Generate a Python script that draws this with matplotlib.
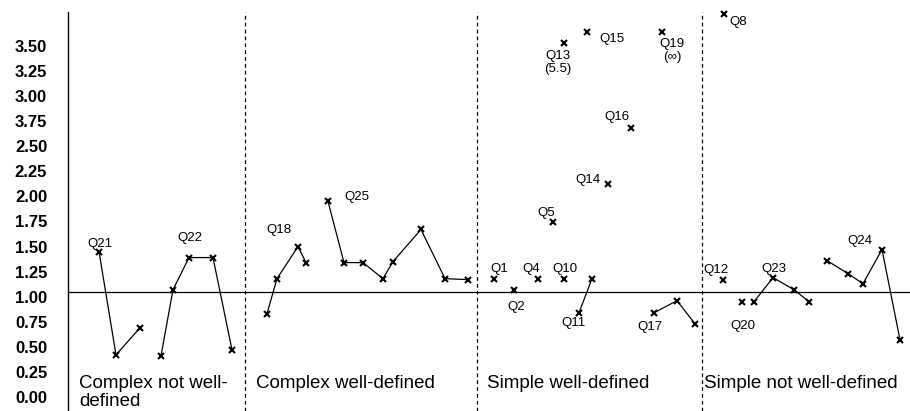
import matplotlib
matplotlib.use('Agg')
import matplotlib.pyplot as plt

plt.rcParams['font.family'] = ['Liberation Sans', 'DejaVu Sans']

# y tick values and their printed labels (the original prints 3.75 where 2.75 belongs)
tick_vals = [0.0, 0.25, 0.5, 0.75, 1.0, 1.25, 1.5, 1.75, 2.0, 2.25, 2.5, 2.75, 3.0, 3.25, 3.5]
tick_labels = ['0.00', '0.25', '0.50', '0.75', '1.00', '1.25', '1.50', '1.75', '2.00',
               '2.25', '2.50', '3.75', '3.00', '3.25', '3.50']

# group names and the x where each group starts
groups = ['Complex not well-\ndefined', 'Complex well-defined',
          'Simple well-defined', 'Simple not well-defined']
group_start = [68, 245, 477, 702]
group_pad = [11, 11, 10, 2]
baseline = 1.044

# question series: x position along the axis, ratio values
q21_x = [99, 116, 140];                    q21_y = [1.45, 0.42, 0.69]
q22_x = [161, 173, 189, 213, 232];         q22_y = [0.41, 1.07, 1.39, 1.39, 0.47]
q18_x = [267, 277, 298, 306];              q18_y = [0.83, 1.18, 1.50, 1.34]
q25_x = [328, 344, 363, 383, 393, 421, 445, 468]
q25_y = [1.95, 1.34, 1.34, 1.18, 1.35, 1.67, 1.18, 1.17]
q1_x = [494];  q1_y = [1.18]
q2_x = [514];  q2_y = [1.07]
q4_x = [538];  q4_y = [1.18]
q5_x = [553];  q5_y = [1.74]
q10_x = [564]; q10_y = [1.18]
q11_x = [579, 592];                        q11_y = [0.84, 1.18]
q13_x = [564]; q13_y = [3.53]
q15_x = [587]; q15_y = [3.64]
q14_x = [608]; q14_y = [2.12]
q16_x = [631]; q16_y = [2.68]
q17_x = [654, 677, 695];                   q17_y = [0.84, 0.96, 0.73]
q19_x = [662]; q19_y = [3.64]
q8_x = [724];  q8_y = [3.82]
q12_x = [723]; q12_y = [1.17]
q20_x = [742]; q20_y = [0.95]
q23_x = [754, 773, 794, 809];              q23_y = [0.95, 1.19, 1.07, 0.95]
q24_x = [827, 848, 863, 882, 900];         q24_y = [1.36, 1.23, 1.13, 1.47, 0.57]

series = {
    'Q21': (q21_x, q21_y), 'Q22': (q22_x, q22_y), 'Q18': (q18_x, q18_y),
    'Q25': (q25_x, q25_y), 'Q1': (q1_x, q1_y), 'Q2': (q2_x, q2_y),
    'Q4': (q4_x, q4_y), 'Q5': (q5_x, q5_y), 'Q10': (q10_x, q10_y),
    'Q11': (q11_x, q11_y), 'Q13': (q13_x, q13_y), 'Q15': (q15_x, q15_y),
    'Q14': (q14_x, q14_y), 'Q16': (q16_x, q16_y), 'Q17': (q17_x, q17_y),
    'Q19': (q19_x, q19_y), 'Q8': (q8_x, q8_y), 'Q12': (q12_x, q12_y),
    'Q20': (q20_x, q20_y), 'Q23': (q23_x, q23_y), 'Q24': (q24_x, q24_y),
}
label_text = {'Q13': 'Q13\n(5.5)', 'Q19': 'Q19\n(\u221e)'}

# where each label sits: point index, pixel offset (dx, dy up)
label_at = {
    'Q21': (0, 1, 8), 'Q22': (2, 1, 20), 'Q18': (2, -19, 17), 'Q25': (0, 29, 4),
    'Q1': (0, 5, 10), 'Q4': (0, -7, 10), 'Q10': (0, 1, 10), 'Q2': (0, 2, -17),
    'Q5': (0, -7, 9), 'Q11': (0, -6, -10), 'Q17': (0, -4, -14),
    'Q13': (0, -6, -20), 'Q15': (0, 25, -7), 'Q19': (0, 10, -19),
    'Q16': (0, -14, 11), 'Q14': (0, -20, 4), 'Q8': (0, 14, -8),
    'Q12': (0, -7, 10), 'Q20': (0, 1, -24), 'Q23': (1, 1, 9), 'Q24': (3, -22, 9),
}

fig = plt.figure(figsize=(9.1, 4.11), dpi=100)
ax = fig.add_axes([0, 0, 1, 1])
ax.set_xlim(0, 910)
ax.set_ylim(-0.1396, 3.958)

for s in ['top', 'right', 'bottom']:
    ax.spines[s].set_visible(False)
ax.spines['left'].set_position(('data', 68))
ax.spines['left'].set_bounds(-0.14, 3.84)
ax.spines['left'].set_linewidth(1.0)
ax.set_xticks([])
ax.set_yticks(tick_vals)
ax.set_yticklabels(tick_labels, fontsize=12, fontweight='bold')
ax.tick_params(axis='y', length=0, pad=15)

ax.plot([68, 910], [baseline, baseline], color='black', lw=0.9)
for gx in group_start[1:]:
    ax.plot([gx, gx], [-0.14, 3.84], color='black', lw=0.9, linestyle=(0, (3, 2.5)))

for g, gx, gp in zip(groups, group_start, group_pad):
    ax.text(gx + gp, 0.22, g, fontsize=13.5, va='top', ha='left', linespacing=1.05)

for name, (xs, ys) in series.items():
    ax.plot(xs, ys, color='black', lw=0.9, marker='x', ms=4, mew=1.5)
    i, dx, dy = label_at[name]
    ax.annotate(label_text.get(name, name), (xs[i], ys[i]), xytext=(dx, dy),
                textcoords='offset pixels', ha='center', va='center',
                fontsize=9.5, linespacing=1.1)

fig.savefig('out.png', dpi=100)
